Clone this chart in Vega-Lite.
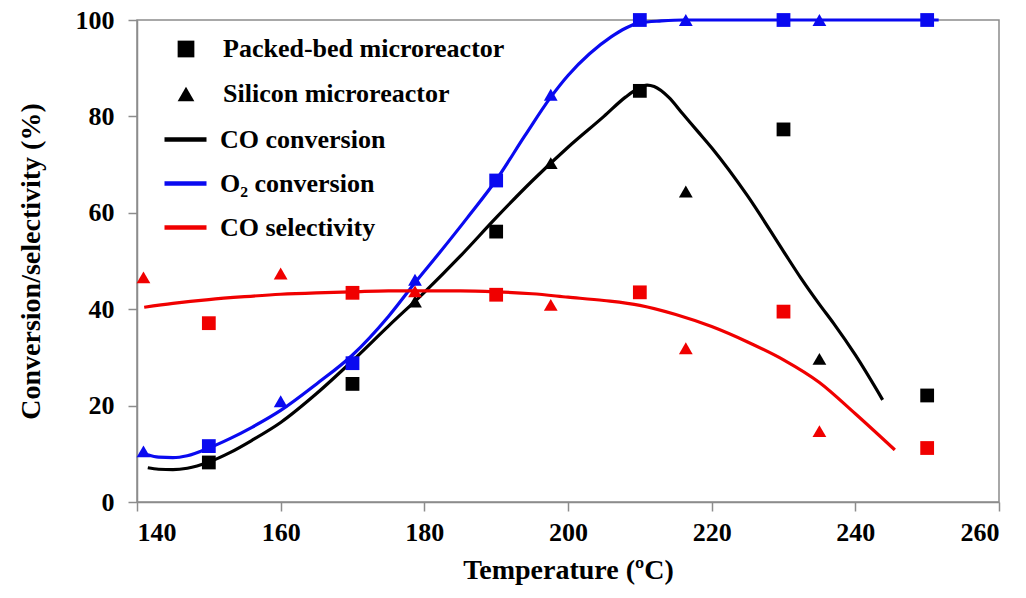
{
  "$schema": "https://vega.github.io/schema/vega-lite/v6.json",
  "width": 862,
  "height": 482,
  "autosize": "none",
  "padding": {"left": 137, "top": 20, "right": 27, "bottom": 96},
  "background": "white",
  "config": {
    "font": "Liberation Serif, DejaVu Serif, serif",
    "view": {"stroke": "#8c8c8c", "strokeWidth": 1.5},
    "axis": {
      "grid": false,
      "domainColor": "#8c8c8c",
      "domainWidth": 1.5,
      "tickColor": "#8c8c8c",
      "tickWidth": 1.5,
      "tickSize": 9,
      "labelFont": "Liberation Serif, DejaVu Serif, serif",
      "labelFontSize": 26,
      "labelFontWeight": "bold",
      "labelColor": "black",
      "titleFont": "Liberation Serif, DejaVu Serif, serif",
      "titleFontSize": 28,
      "titleFontWeight": "bold",
      "titleColor": "black"
    },
    "legend": {
      "labelFont": "Liberation Serif, DejaVu Serif, serif",
      "labelFontSize": 26,
      "labelFontWeight": "bold",
      "labelColor": "black",
      "labelLimit": 0,
      "padding": 0
    }
  },
  "datasets": {
    "points": [
      {"T": 150, "value": 8.2, "metric": "CO conversion", "reactor": "Packed-bed microreactor"},
      {"T": 170, "value": 24.5, "metric": "CO conversion", "reactor": "Packed-bed microreactor"},
      {"T": 190, "value": 56.1, "metric": "CO conversion", "reactor": "Packed-bed microreactor"},
      {"T": 210, "value": 85.3, "metric": "CO conversion", "reactor": "Packed-bed microreactor"},
      {"T": 230, "value": 77.3, "metric": "CO conversion", "reactor": "Packed-bed microreactor"},
      {"T": 250, "value": 22.1, "metric": "CO conversion", "reactor": "Packed-bed microreactor"},
      {"T": 178.7, "value": 41.6, "metric": "CO conversion", "reactor": "Silicon microreactor"},
      {"T": 197.6, "value": 70.3, "metric": "CO conversion", "reactor": "Silicon microreactor"},
      {"T": 216.4, "value": 64.4, "metric": "CO conversion", "reactor": "Silicon microreactor"},
      {"T": 235, "value": 29.7, "metric": "CO conversion", "reactor": "Silicon microreactor"},
      {"T": 150, "value": 11.6, "metric": "O₂ conversion", "reactor": "Packed-bed microreactor"},
      {"T": 170, "value": 28.8, "metric": "O₂ conversion", "reactor": "Packed-bed microreactor"},
      {"T": 190, "value": 66.7, "metric": "O₂ conversion", "reactor": "Packed-bed microreactor"},
      {"T": 210, "value": 100, "metric": "O₂ conversion", "reactor": "Packed-bed microreactor"},
      {"T": 230, "value": 100, "metric": "O₂ conversion", "reactor": "Packed-bed microreactor"},
      {"T": 250, "value": 100, "metric": "O₂ conversion", "reactor": "Packed-bed microreactor"},
      {"T": 140.9, "value": 10.5, "metric": "O₂ conversion", "reactor": "Silicon microreactor"},
      {"T": 160, "value": 20.9, "metric": "O₂ conversion", "reactor": "Silicon microreactor"},
      {"T": 178.7, "value": 46.1, "metric": "O₂ conversion", "reactor": "Silicon microreactor"},
      {"T": 197.6, "value": 84.5, "metric": "O₂ conversion", "reactor": "Silicon microreactor"},
      {"T": 216.4, "value": 100, "metric": "O₂ conversion", "reactor": "Silicon microreactor"},
      {"T": 235, "value": 100, "metric": "O₂ conversion", "reactor": "Silicon microreactor"},
      {"T": 150, "value": 37.1, "metric": "CO selectivity", "reactor": "Packed-bed microreactor"},
      {"T": 170, "value": 43.4, "metric": "CO selectivity", "reactor": "Packed-bed microreactor"},
      {"T": 190, "value": 43.0, "metric": "CO selectivity", "reactor": "Packed-bed microreactor"},
      {"T": 210, "value": 43.5, "metric": "CO selectivity", "reactor": "Packed-bed microreactor"},
      {"T": 230, "value": 39.5, "metric": "CO selectivity", "reactor": "Packed-bed microreactor"},
      {"T": 250, "value": 11.2, "metric": "CO selectivity", "reactor": "Packed-bed microreactor"},
      {"T": 140.9, "value": 46.6, "metric": "CO selectivity", "reactor": "Silicon microreactor"},
      {"T": 160, "value": 47.4, "metric": "CO selectivity", "reactor": "Silicon microreactor"},
      {"T": 178.7, "value": 43.7, "metric": "CO selectivity", "reactor": "Silicon microreactor"},
      {"T": 197.6, "value": 40.9, "metric": "CO selectivity", "reactor": "Silicon microreactor"},
      {"T": 216.4, "value": 31.9, "metric": "CO selectivity", "reactor": "Silicon microreactor"},
      {"T": 235, "value": 14.7, "metric": "CO selectivity", "reactor": "Silicon microreactor"}
    ],
    "curves": [
      {"T": 141.5, "value": 7.1, "metric": "CO conversion"},
      {"T": 143, "value": 6.8, "metric": "CO conversion"},
      {"T": 145, "value": 6.7, "metric": "CO conversion"},
      {"T": 147, "value": 7.0, "metric": "CO conversion"},
      {"T": 150, "value": 8.3, "metric": "CO conversion"},
      {"T": 153, "value": 10.3, "metric": "CO conversion"},
      {"T": 156, "value": 12.8, "metric": "CO conversion"},
      {"T": 160, "value": 16.5, "metric": "CO conversion"},
      {"T": 165, "value": 22.5, "metric": "CO conversion"},
      {"T": 170, "value": 29.3, "metric": "CO conversion"},
      {"T": 175, "value": 36.5, "metric": "CO conversion"},
      {"T": 180, "value": 43.5, "metric": "CO conversion"},
      {"T": 185, "value": 51.0, "metric": "CO conversion"},
      {"T": 190, "value": 59.0, "metric": "CO conversion"},
      {"T": 195, "value": 66.6, "metric": "CO conversion"},
      {"T": 200, "value": 73.6, "metric": "CO conversion"},
      {"T": 205, "value": 80.0, "metric": "CO conversion"},
      {"T": 208, "value": 84.0, "metric": "CO conversion"},
      {"T": 210, "value": 86.0, "metric": "CO conversion"},
      {"T": 211, "value": 86.5, "metric": "CO conversion"},
      {"T": 212, "value": 86.2, "metric": "CO conversion"},
      {"T": 214, "value": 84.0, "metric": "CO conversion"},
      {"T": 216, "value": 80.5, "metric": "CO conversion"},
      {"T": 218, "value": 77.0, "metric": "CO conversion"},
      {"T": 220, "value": 73.5, "metric": "CO conversion"},
      {"T": 225, "value": 63.5, "metric": "CO conversion"},
      {"T": 230, "value": 52.0, "metric": "CO conversion"},
      {"T": 232.4, "value": 46.5, "metric": "CO conversion"},
      {"T": 235, "value": 41.0, "metric": "CO conversion"},
      {"T": 237, "value": 37.0, "metric": "CO conversion"},
      {"T": 240, "value": 30.5, "metric": "CO conversion"},
      {"T": 243.8, "value": 21.2, "metric": "CO conversion"},
      {"T": 141.5, "value": 9.8, "metric": "O₂ conversion"},
      {"T": 143, "value": 9.3, "metric": "O₂ conversion"},
      {"T": 145, "value": 9.2, "metric": "O₂ conversion"},
      {"T": 147, "value": 9.6, "metric": "O₂ conversion"},
      {"T": 150, "value": 11.2, "metric": "O₂ conversion"},
      {"T": 153, "value": 13.2, "metric": "O₂ conversion"},
      {"T": 156, "value": 15.5, "metric": "O₂ conversion"},
      {"T": 160, "value": 19.0, "metric": "O₂ conversion"},
      {"T": 165, "value": 24.5, "metric": "O₂ conversion"},
      {"T": 170, "value": 30.5, "metric": "O₂ conversion"},
      {"T": 175, "value": 38.5, "metric": "O₂ conversion"},
      {"T": 178.7, "value": 45.5, "metric": "O₂ conversion"},
      {"T": 182, "value": 51.5, "metric": "O₂ conversion"},
      {"T": 186, "value": 59.0, "metric": "O₂ conversion"},
      {"T": 190, "value": 66.8, "metric": "O₂ conversion"},
      {"T": 194, "value": 76.0, "metric": "O₂ conversion"},
      {"T": 197.6, "value": 84.0, "metric": "O₂ conversion"},
      {"T": 200, "value": 88.5, "metric": "O₂ conversion"},
      {"T": 203, "value": 93.0, "metric": "O₂ conversion"},
      {"T": 206, "value": 96.5, "metric": "O₂ conversion"},
      {"T": 208, "value": 98.3, "metric": "O₂ conversion"},
      {"T": 210, "value": 99.4, "metric": "O₂ conversion"},
      {"T": 213, "value": 99.8, "metric": "O₂ conversion"},
      {"T": 216, "value": 100, "metric": "O₂ conversion"},
      {"T": 251.6, "value": 100, "metric": "O₂ conversion"},
      {"T": 141, "value": 40.4, "metric": "CO selectivity"},
      {"T": 145, "value": 41.2, "metric": "CO selectivity"},
      {"T": 150, "value": 42.0, "metric": "CO selectivity"},
      {"T": 155, "value": 42.6, "metric": "CO selectivity"},
      {"T": 160, "value": 43.1, "metric": "CO selectivity"},
      {"T": 165, "value": 43.4, "metric": "CO selectivity"},
      {"T": 170, "value": 43.6, "metric": "CO selectivity"},
      {"T": 175, "value": 43.8, "metric": "CO selectivity"},
      {"T": 180, "value": 43.8, "metric": "CO selectivity"},
      {"T": 185, "value": 43.8, "metric": "CO selectivity"},
      {"T": 190, "value": 43.6, "metric": "CO selectivity"},
      {"T": 195, "value": 43.2, "metric": "CO selectivity"},
      {"T": 200, "value": 42.5, "metric": "CO selectivity"},
      {"T": 205, "value": 41.8, "metric": "CO selectivity"},
      {"T": 210, "value": 40.8, "metric": "CO selectivity"},
      {"T": 215, "value": 38.9, "metric": "CO selectivity"},
      {"T": 220, "value": 36.4, "metric": "CO selectivity"},
      {"T": 225, "value": 33.2, "metric": "CO selectivity"},
      {"T": 230, "value": 29.5, "metric": "CO selectivity"},
      {"T": 235, "value": 24.8, "metric": "CO selectivity"},
      {"T": 240, "value": 18.3, "metric": "CO selectivity"},
      {"T": 245.5, "value": 10.8, "metric": "CO selectivity"}
    ]
  },
  "layer": [
    {
      "data": {"name": "curves"},
      "mark": {"type": "line", "strokeWidth": 3.2, "interpolate": "monotone"},
      "encoding": {
        "x": {
          "field": "T", "type": "quantitative",
          "scale": {"domain": [140, 260], "nice": false, "zero": false},
          "axis": {"values": [140, 160, 180, 200, 220, 240, 260], "title": "Temperature (ºC)", "labelPadding": 8, "titlePadding": 11}
        },
        "y": {
          "field": "value", "type": "quantitative",
          "scale": {"domain": [0, 100], "nice": false},
          "axis": {"values": [0, 20, 40, 60, 80, 100], "title": "Conversion/selectivity (%)", "labelPadding": 14, "titlePadding": 30}
        },
        "color": {
          "field": "metric", "type": "nominal",
          "scale": {"domain": ["CO conversion", "O₂ conversion", "CO selectivity"], "range": ["#000000", "#0a0af0", "#f00000"]},
          "legend": {
            "title": null,
            "orient": "none",
            "legendX": 25,
            "legendY": 96,
            "symbolType": "stroke",
            "symbolSize": 1764,
            "symbolStrokeWidth": 4.5,
            "labelOffset": 11,
            "rowPadding": 7
          }
        },
        "detail": {"field": "metric"}
      }
    },
    {
      "data": {"name": "points"},
      "mark": {"type": "point", "filled": true, "opacity": 1, "size": 190, "strokeWidth": 0},
      "encoding": {
        "x": {"field": "T", "type": "quantitative"},
        "y": {"field": "value", "type": "quantitative"},
        "color": {"field": "metric", "type": "nominal"},
        "shape": {
          "field": "reactor", "type": "nominal",
          "scale": {"domain": ["Packed-bed microreactor", "Silicon microreactor"], "range": ["square", "triangle-up"]},
          "legend": {
            "title": null,
            "orient": "none",
            "legendX": 36,
            "legendY": 16,
            "symbolSize": 280,
            "symbolFillColor": "black",
            "symbolStrokeColor": "black",
            "symbolStrokeWidth": 0,
            "labelOffset": 24,
            "rowPadding": 19
          }
        }
      }
    }
  ]
}
